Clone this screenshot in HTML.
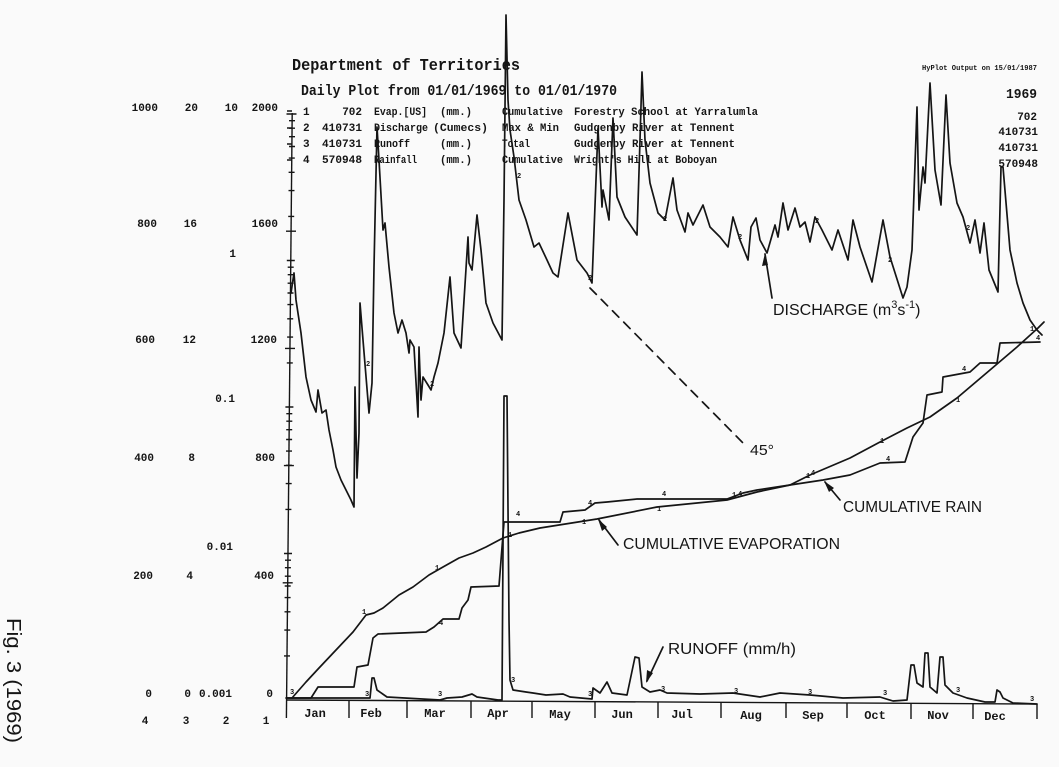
<!DOCTYPE html>
<html>
<head>
<meta charset="utf-8">
<style>
html,body{margin:0;padding:0;background:#fafafa;}
svg{display:block;}
.m{font-family:"Liberation Mono",monospace;font-weight:bold;fill:#151515;}
.s{font-family:"Liberation Sans",sans-serif;fill:#151515;}
.ln{fill:none;stroke:#151515;stroke-width:1.7;stroke-linejoin:round;stroke-linecap:round;}
.tk{fill:none;stroke:#151515;stroke-width:1.4;}
</style>
</head>
<body>
<svg width="1059" height="767" viewBox="0 0 1059 767" xmlns="http://www.w3.org/2000/svg">
<rect x="0" y="0" width="1059" height="767" fill="#fafafa"/>

<!-- Header -->
<text class="m" x="292" y="70" font-size="17" textLength="228" lengthAdjust="spacingAndGlyphs">Department of Territories</text>
<text class="m" x="301" y="95" font-size="15" textLength="316" lengthAdjust="spacingAndGlyphs">Daily Plot from 01/01/1969 to 01/01/1970</text>

<g class="m" font-size="11">
<text x="303" y="115">1</text>
<text x="362" y="115" text-anchor="end">702</text>
<text x="374" y="115" textLength="53" lengthAdjust="spacingAndGlyphs">Evap.[US]</text>
<text x="440" y="115" textLength="32" lengthAdjust="spacingAndGlyphs">(mm.)</text>
<text x="502" y="115" textLength="61" lengthAdjust="spacingAndGlyphs">Cumulative</text>
<text x="574" y="115" textLength="184" lengthAdjust="spacingAndGlyphs">Forestry School at Yarralumla</text>

<text x="303" y="131">2</text>
<text x="322" y="131" textLength="40" lengthAdjust="spacingAndGlyphs">410731</text>
<text x="374" y="131" textLength="54" lengthAdjust="spacingAndGlyphs">Discharge</text>
<text x="433" y="131" textLength="55" lengthAdjust="spacingAndGlyphs">(Cumecs)</text>
<text x="502" y="131" textLength="57" lengthAdjust="spacingAndGlyphs">Max &amp; Min</text>
<text x="574" y="131" textLength="161" lengthAdjust="spacingAndGlyphs">Gudgenby River at Tennent</text>

<text x="303" y="147">3</text>
<text x="322" y="147" textLength="40" lengthAdjust="spacingAndGlyphs">410731</text>
<text x="374" y="147" textLength="36" lengthAdjust="spacingAndGlyphs">Runoff</text>
<text x="440" y="147" textLength="32" lengthAdjust="spacingAndGlyphs">(mm.)</text>
<text x="502" y="147" textLength="28" lengthAdjust="spacingAndGlyphs">Total</text>
<text x="574" y="147" textLength="161" lengthAdjust="spacingAndGlyphs">Gudgenby River at Tennent</text>

<text x="303" y="163">4</text>
<text x="322" y="163" textLength="40" lengthAdjust="spacingAndGlyphs">570948</text>
<text x="374" y="163" textLength="43" lengthAdjust="spacingAndGlyphs">Rainfall</text>
<text x="440" y="163" textLength="32" lengthAdjust="spacingAndGlyphs">(mm.)</text>
<text x="502" y="163" textLength="61" lengthAdjust="spacingAndGlyphs">Cumulative</text>
<text x="574" y="163" textLength="143" lengthAdjust="spacingAndGlyphs">Wright's Hill at Boboyan</text>
</g>

<text class="m" x="922" y="70" font-size="7.5" textLength="115" lengthAdjust="spacingAndGlyphs">HyPlot Output on 15/01/1987</text>
<text class="m" x="1006" y="98" font-size="14" textLength="31" lengthAdjust="spacingAndGlyphs">1969</text>
<g class="m" font-size="11" text-anchor="end">
<text x="1037" y="120">702</text>
<text x="1038" y="135">410731</text>
<text x="1038" y="151">410731</text>
<text x="1038" y="167">570948</text>
</g>

<!-- Left axis labels -->
<g class="m" font-size="11" text-anchor="end">
<text x="158" y="111">1000</text><text x="198" y="111">20</text><text x="238" y="111">10</text><text x="278" y="111">2000</text>
<text x="157" y="227">800</text><text x="197" y="227">16</text><text x="278" y="227">1600</text>
<text x="236" y="257">1</text>
<text x="155" y="343">600</text><text x="196" y="343">12</text><text x="277" y="343">1200</text>
<text x="235" y="402">0.1</text>
<text x="154" y="461">400</text><text x="195" y="461">8</text><text x="275" y="461">800</text>
<text x="233" y="550">0.01</text>
<text x="153" y="579">200</text><text x="193" y="579">4</text><text x="274" y="579">400</text>
<text x="152" y="697">0</text><text x="191" y="697">0</text><text x="232" y="697">0.001</text><text x="273" y="697">0</text>
</g>
<g class="m" font-size="11" text-anchor="middle">
<text x="145" y="724">4</text><text x="186" y="724">3</text><text x="226" y="724">2</text><text x="266" y="724">1</text>
</g>

<!-- Fig label -->
<text class="s" font-size="20" transform="translate(7,618) rotate(90)" textLength="125" lengthAdjust="spacingAndGlyphs">Fig. 3 (1969)</text>

<!-- Axes -->
<path class="tk" stroke-width="1.8" d="M292.2,113 L286.4,718"/>
<path class="tk" stroke-width="1.8" d="M286.4,700 L1037,704"/>
<!-- month boundary ticks -->
<path class="tk" stroke-width="1.6" d="M349,700.4 V718 M407,700.7 V718 M471,701 V718 M532,701.4 V718 M595,701.7 V718 M658,702 V718 M721,702.4 V718 M786,702.7 V718 M847,703 V718 M911,703.4 V719 M973,703.7 V719 M1037,704 V719"/>
<!-- legend row ticks -->
<path class="tk" d="M287,111 h5 M287,128 h5 M287,144 h5 M287,160 h5"/>
<!-- log minor ticks -->
<path class="tk" d="M289,120.7 h6 M289,128.2 h6 M289,136.7 h6 M289,146.5 h6 M288.8,158.1 h6 M288.6,172.3 h6 M288.5,190.6 h6 M288.2,216.4 h6
M286.8,260.5 h8 M287.7,267.2 h6 M287.7,274.7 h6 M287.6,283.2 h6 M287.5,293 h6 M287.4,304.6 h6 M287.2,318.8 h6 M287.1,337.1 h6 M286.8,362.9 h6
M285.4,407 h8 M286.3,413.7 h6 M286.3,421.2 h6 M286.2,429.7 h6 M286.1,439.5 h6 M286,451.1 h6 M285.9,465.3 h6 M285.7,483.6 h6 M285.4,509.4 h6
M284,553.5 h8 M285,560.2 h6 M284.9,567.7 h6 M284.8,576.2 h6 M284.7,586 h6 M284.6,597.6 h6 M284.5,611.8 h6 M284.3,630.1 h6 M284,655.9 h6"/>
<!-- linear major ticks -->
<path class="tk" d="M286.5,114 h10 M286,231.2 h10 M285,348.4 h10 M283.9,465.6 h10 M282.7,582.8 h10"/>

<!-- Month labels -->
<g class="m" font-size="12" text-anchor="middle">
<text x="315" y="717">Jan</text>
<text x="371" y="717">Feb</text>
<text x="435" y="717">Mar</text>
<text x="498" y="717">Apr</text>
<text x="560" y="718">May</text>
<text x="622" y="718">Jun</text>
<text x="682" y="718">Jul</text>
<text x="751" y="719">Aug</text>
<text x="813" y="719">Sep</text>
<text x="875" y="719">Oct</text>
<text x="938" y="719">Nov</text>
<text x="995" y="720">Dec</text>
</g>

<!-- Discharge -->
<polyline class="ln" points="291,293 294,273 296,300 301,333 306,377 311,400 316,412 318,390 322,413 326,410 329,430 333,450 336,467 341,480 346,490 351,500 354,507 355,387 357,478 359,433 360,303 363,340 369,413 372,383 374,267 377,127 379,160 383,230 385,223 389,267 394,313 398,333 402,320 406,333 409,353 410,340 414,347 418,417 419,347 421,400 423,377 428,385 431,390 434,377 438,363 440,353 444,333 450,277 454,333 461,348 468,237 469,263 472,270 477,215 481,250 486,303 493,323 502,340 504,200 506,15 508,100 510,130 514,157 519,200 526,220 534,247 539,243 547,260 553,273 558,277 568,213 577,260 587,273 592,283 598,128 602,207 603,190 609,220 613,118 617,197 625,217 637,235 640,140 642,72 645,140 650,183 658,213 665,220 673,178 677,210 685,232 688,213 693,225 703,205 710,227 720,237 728,247 733,217 740,240 748,260 751,227 756,218 760,240 767,253 775,225 778,237 783,203 788,230 795,208 800,227 805,222 810,242 815,217 822,230 832,250 838,230 848,260 853,220 860,247 872,282 883,220 890,257 903,298 907,287 912,250 917,107 919,210 923,167 925,183 930,83 935,170 941,205 946,95 950,163 957,203 963,217 970,243 975,220 980,253 984,223 989,270 998,292 1001,167 1003,167 1010,250 1017,283 1023,303 1030,320 1037,330 1042,335"/>

<!-- Cumulative evaporation -->
<polyline class="ln" points="292,698 306,682 319,668 336,650 353,632 366,615 374,613 383,608 399,595 413,587 429,575 443,567 459,558 473,553 486,547 503,538 519,533 540,528 597,519 657,507 727,500 757,492 790,485 810,475 850,458 880,442 907,428 930,417 957,398 990,370 1017,347 1038,328 1044,322"/>

<!-- Cumulative rain -->
<polyline class="ln" points="286,698 311,698 318,687 354,687 357,667 368,665 373,638 378,634 426,632 434,627 443,619 459,619 462,608 468,600 471,587 499,586 504,522 560,522 563,512 585,510 595,503 607,502 637,499 727,499 743,493 757,490 790,485 823,480 850,475 880,463 905,462 913,437 923,423 927,395 942,392 943,377 970,372 980,363 997,363 1000,343 1040,342"/>

<!-- Runoff -->
<polyline class="ln" points="287,698 370,698 372,678 374,678 377,690 387,697 440,700 447,698 462,697 472,694 477,697 498,700 502,700 504,396 507,396 509,620 510,680 513,690 526,692 533,693 546,695 563,694 570,697 592,699 593,688 600,693 607,682 612,693 627,695 635,657 639,658 642,687 650,692 660,690 667,693 700,694 733,693 760,697 780,693 810,695 843,698 880,697 893,701 907,700 911,665 914,665 917,683 923,687 925,653 928,653 930,687 937,693 940,657 943,657 945,685 953,693 967,698 985,702 995,702 997,690 1000,692 1003,698 1013,703 1037,704"/>

<!-- Series markers -->
<g class="m" font-size="7">
<text x="366" y="366">2</text><text x="430" y="386">2</text><text x="517" y="178">2</text><text x="588" y="280">2</text>
<text x="663" y="221">2</text><text x="738" y="239">2</text><text x="815" y="223">2</text><text x="888" y="262">2</text><text x="966" y="230">2</text>
<text x="362" y="614">1</text><text x="435" y="570">1</text><text x="508" y="537">1</text><text x="582" y="524">1</text><text x="657" y="511">1</text><text x="732" y="497">1</text><text x="806" y="478">1</text><text x="880" y="443">1</text><text x="956" y="402">1</text><text x="1030" y="331">1</text>
<text x="439" y="625">4</text><text x="516" y="516">4</text><text x="588" y="505">4</text><text x="662" y="496">4</text><text x="738" y="496">4</text><text x="811" y="475">4</text><text x="886" y="461">4</text><text x="962" y="371">4</text><text x="1036" y="340">4</text>
<text x="290" y="694">3</text><text x="365" y="696">3</text><text x="438" y="696">3</text><text x="511" y="682">3</text><text x="588" y="696">3</text><text x="661" y="691">3</text><text x="734" y="693">3</text><text x="808" y="694">3</text><text x="883" y="695">3</text><text x="956" y="692">3</text><text x="1030" y="701">3</text>
</g>

<!-- Annotations -->
<path class="ln" stroke-width="1.4" stroke-dasharray="9,7" d="M590,288 L745,445"/>
<text class="s" x="750" y="455" font-size="15" textLength="24" lengthAdjust="spacingAndGlyphs">45°</text>

<path class="ln" stroke-width="1.3" d="M772,298 L765,254"/>
<path d="M765,253 L762,266 L768,265 Z" fill="#151515"/>
<text class="s" x="773" y="315" font-size="16">DISCHARGE (m<tspan font-size="11" dy="-7">3</tspan><tspan font-size="16" dy="7">s</tspan><tspan font-size="11" dy="-7">-1</tspan><tspan font-size="16" dy="7">)</tspan></text>

<path class="ln" stroke-width="1.3" d="M840,500 L825,482"/>
<path d="M824,481 L829,492 L834,488 Z" fill="#151515"/>
<text class="s" x="843" y="512" font-size="16" textLength="139" lengthAdjust="spacingAndGlyphs">CUMULATIVE RAIN</text>

<path class="ln" stroke-width="1.3" d="M618,545 L599,520"/>
<path d="M598,519 L602,531 L607,527 Z" fill="#151515"/>
<text class="s" x="623" y="549" font-size="16" textLength="217" lengthAdjust="spacingAndGlyphs">CUMULATIVE EVAPORATION</text>

<path class="ln" stroke-width="1.3" d="M663,647 L647,681"/>
<path d="M646,683 L647,670 L653,673 Z" fill="#151515"/>
<text class="s" x="668" y="654" font-size="16" textLength="128" lengthAdjust="spacingAndGlyphs">RUNOFF (mm/h)</text>
</svg>
</body>
</html>
